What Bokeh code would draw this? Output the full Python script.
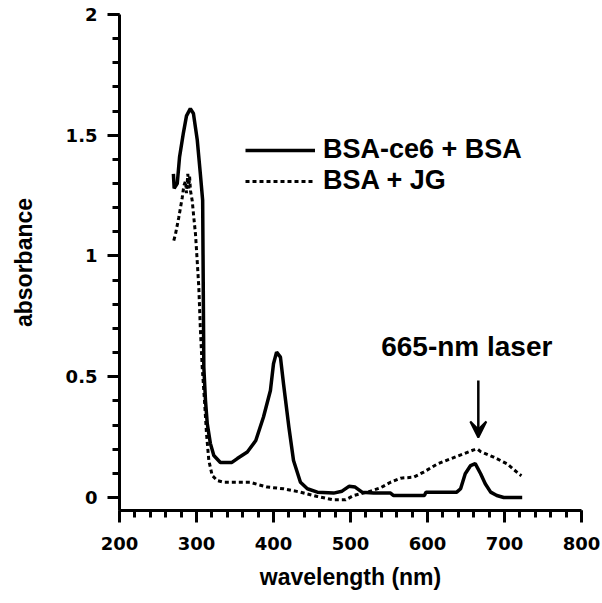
from bokeh.plotting import figure
from bokeh.models import (SingleIntervalTicker, Legend, LegendItem, Label, Arrow, VeeHead,
                          Range1d)
from bokeh.embed import file_html
from bokeh.resources import INLINE

# ---- data ----
wl_ce6 = [270, 271, 275, 278, 283, 287, 292, 296, 301, 305, 308, 309.5, 311.7, 314,
          318, 322.5, 331, 346, 353, 366, 377, 387, 396, 400, 404, 409, 413, 420,
          426, 435, 444, 457, 478, 489, 498, 506, 515, 530, 552, 556, 596, 598,
          638, 643, 649, 656, 662, 669, 675, 682, 690, 699, 723]
abs_ce6 = [1.34, 1.28, 1.30, 1.41, 1.51, 1.58, 1.61, 1.59, 1.48, 1.34, 1.23, 0.54,
           0.40, 0.305, 0.224, 0.174, 0.145, 0.145, 0.161, 0.188, 0.236, 0.333, 0.443,
           0.554, 0.602, 0.581, 0.471, 0.291, 0.153, 0.063, 0.036, 0.022, 0.018, 0.026,
           0.046, 0.043, 0.022, 0.018, 0.018, 0.008, 0.008, 0.022, 0.022, 0.036, 0.098,
           0.132, 0.14, 0.098, 0.057, 0.022, 0.008, 0.0, 0.0]

wl_jg = [270.5, 272.7, 277, 281.4, 283.5, 285.7, 287, 288.7, 290, 291, 292.2, 294.4,
         296.5, 298.7, 300.9, 303, 305, 307.4, 310.4, 313, 316, 320.4, 326.9, 335.5,
         357, 370, 379, 392, 413, 435, 457, 478, 493.5, 504, 522, 539, 552, 565, 582,
         595, 613, 630, 647, 660, 665, 669, 686, 703.5, 718.6, 722]
abs_jg = [1.064, 1.09, 1.16, 1.24, 1.29, 1.31, 1.26, 1.34, 1.28, 1.33, 1.27, 1.23,
          1.16, 1.09, 0.98, 0.87, 0.70, 0.54, 0.40, 0.264, 0.153, 0.091, 0.070, 0.063,
          0.063, 0.063, 0.054, 0.043, 0.036, 0.022, 0.004, -0.01, -0.01, 0.008, 0.022,
          0.04, 0.063, 0.08, 0.084, 0.105, 0.139, 0.160, 0.181, 0.197, 0.2, 0.19, 0.167,
          0.139, 0.098, 0.09]

series_names = ["BSA-ce6 + BSA", "BSA + JG"]
y_ticks = [0, 0.5, 1, 1.5, 2]
y_tick_labels = ["0", "0.5", "1", "1.5", "2"]
annotation_text = "665-nm laser"
laser_nm = 666
arrow_from, arrow_to = 0.484, 0.248

TICK_FONT = "DejaVu Sans"
LABEL_FONT = "Liberation Sans"

p = figure(width=602, height=603, output_backend="svg", toolbar_location=None,
           x_range=Range1d(200, 800), y_range=Range1d(-0.054, 2.0),
           min_border_left=119, min_border_right=21, min_border_top=14,
           min_border_bottom=93)
p.outline_line_color = None
p.xgrid.visible = False
p.ygrid.visible = False
p.background_fill_color = "white"
p.border_fill_color = "white"

r1 = p.line(wl_ce6, abs_ce6, line_color="black", line_width=3.5)
r2 = p.line(wl_jg, abs_jg, line_color="black", line_width=3, line_dash="4 3")

for ax in (p.xaxis[0], p.yaxis[0]):
    ax.axis_line_width = 3
    ax.axis_line_color = "black"
    ax.major_tick_line_width = 3
    ax.minor_tick_line_width = 3
    ax.major_tick_line_color = "black"
    ax.minor_tick_line_color = "black"
    ax.major_tick_out = 12
    ax.major_tick_in = 0
    ax.minor_tick_out = 7
    ax.minor_tick_in = 0
    ax.major_label_text_font = TICK_FONT
    ax.major_label_text_font_style = "bold"
    ax.major_label_text_font_size = "18px"
    ax.major_label_text_color = "black"
    ax.axis_label_text_font = LABEL_FONT
    ax.axis_label_text_font_style = "bold"
    ax.axis_label_text_font_size = "23px"
    ax.axis_label_text_color = "black"

p.xaxis[0].ticker = SingleIntervalTicker(interval=100, num_minor_ticks=5)
p.yaxis[0].ticker = SingleIntervalTicker(interval=0.5, num_minor_ticks=5)
p.yaxis[0].major_label_overrides = {t: s for t, s in zip(y_ticks, y_tick_labels)}
p.xaxis[0].axis_label = "wavelength (nm)"
p.yaxis[0].axis_label = "absorbance"
p.xaxis[0].major_label_standoff = 14
p.yaxis[0].major_label_standoff = 10
p.xaxis[0].axis_label_standoff = 11
p.yaxis[0].axis_label_standoff = 26

legend_style = dict(glyph_width=70, label_standoff=8,
                    label_text_font=LABEL_FONT, label_text_font_style="bold",
                    label_text_font_size="27px", label_text_color="black",
                    padding=0, margin=0, spacing=0,
                    border_line_color=None, background_fill_alpha=0)
leg1 = Legend(items=[LegendItem(label=series_names[0], renderers=[r1])],
              location=(126, 345), **legend_style)
leg2 = Legend(items=[LegendItem(label=series_names[1], renderers=[r2])],
              location=(126, 314), **legend_style)
p.add_layout(leg1, "center")
p.add_layout(leg2, "center")

p.add_layout(Label(x=651, y=0.625, text=annotation_text, text_align="center",
                   text_baseline="middle", text_font=LABEL_FONT,
                   text_font_style="bold", text_font_size="28px", text_color="black"))
p.add_layout(Arrow(x_start=laser_nm, y_start=arrow_from, x_end=laser_nm, y_end=arrow_to,
                   line_width=2.5, line_color="black",
                   end=VeeHead(size=16, fill_color="black", line_color="black", line_width=2)))

open("out.html", "w").write(file_html(p, INLINE))
